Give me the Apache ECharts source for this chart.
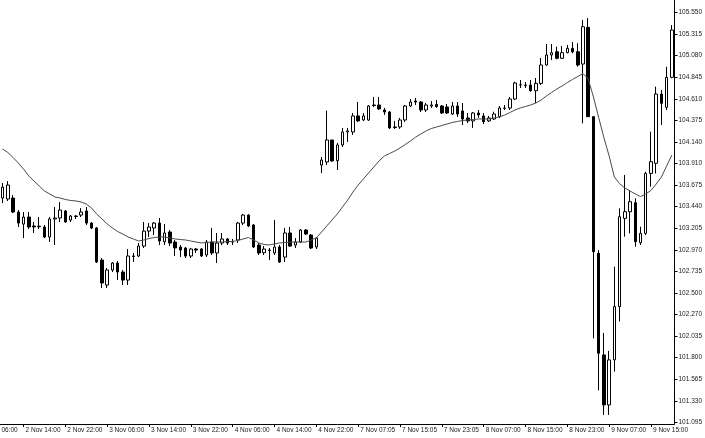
<!DOCTYPE html>
<html>
<head>
<meta charset="utf-8">
<script src="https://cdn.jsdelivr.net/npm/echarts@6.0.0/dist/echarts.min.js"></script>
<style>
html,body{margin:0;padding:0;background:#fff;}
#chart{width:705px;height:438px;}
</style>
</head>
<body>
<div id="chart"></div>
<script>
// Hourly bars (2 Nov 10:00 .. 9 Nov 19:00)
const daySegments = [
  ["2 Nov", 10, 23, "00"],
  ["3 Nov", 0, 23, "00"],
  ["4 Nov", 0, 22, "00"],
  ["7 Nov", 0, 23, "05"],
  ["8 Nov", 0, 23, "00"],
  ["9 Nov", 0, 19, "00"]
];
const categories = [];
daySegments.forEach(function (s) {
  for (let h = s[1]; h <= s[2]; h++) {
    categories.push(s[0] + " " + (h < 10 ? "0" + h : "" + h) + ":" + s[3]);
  }
});

const openValues = [
103.534,103.523,103.534,103.382,103.251,103.327,103.230,103.222,103.219,103.110,
103.306,103.317,103.393,103.295,103.333,103.349,103.393,103.262,103.208,102.860,
102.589,102.752,102.828,102.730,102.643,102.904,102.904,103.012,103.175,103.208,
103.262,103.059,103.165,103.056,103.002,102.991,102.904,102.980,102.980,102.915,
103.056,102.937,103.045,103.089,103.056,103.078,103.262,103.349,103.241,103.023,
102.940,102.969,102.937,103.002,102.893,103.154,103.023,103.056,103.186,103.132,
103.002,103.892,103.925,104.164,103.939,104.110,104.251,104.251,104.425,104.381,
104.381,104.544,104.544,104.490,104.468,104.305,104.305,104.381,104.533,104.587,
104.576,104.490,104.533,104.549,104.533,104.522,104.446,104.533,104.479,104.403,
104.371,104.457,104.425,104.371,104.392,104.417,104.508,104.511,104.609,104.761,
104.761,104.761,104.699,104.779,104.978,105.087,105.122,105.051,105.112,105.159,
105.122,104.989,105.387,104.417,102.934,101.830,101.287,101.776,102.355,103.313,
103.385,103.483,103.048,103.150,103.801,103.911,104.663,104.519,104.845
];
const closeValues = [
103.653,103.675,103.382,103.262,103.327,103.219,103.219,103.228,103.110,103.306,
103.317,103.403,103.273,103.338,103.338,103.382,103.262,103.208,102.839,102.611,
102.752,102.828,102.730,102.643,102.904,102.899,103.012,103.175,103.219,103.262,
103.067,103.154,103.045,102.991,102.969,102.904,102.980,102.969,102.904,103.056,
102.937,103.045,103.089,103.045,103.061,103.262,103.349,103.230,103.002,102.937,
102.980,102.964,103.002,102.839,103.154,103.012,103.056,103.186,103.143,102.991,
103.099,103.946,104.164,103.936,104.110,104.251,104.262,104.425,104.371,104.425,
104.533,104.538,104.501,104.468,104.295,104.300,104.381,104.533,104.576,104.576,
104.490,104.544,104.544,104.527,104.457,104.457,104.533,104.446,104.392,104.371,
104.457,104.436,104.363,104.403,104.446,104.511,104.511,104.609,104.783,104.764,
104.755,104.699,104.779,104.978,105.087,105.112,105.051,105.112,105.159,105.122,
104.978,105.394,104.417,102.951,101.848,101.287,101.776,102.355,103.331,103.385,
103.494,103.059,103.150,103.801,103.928,104.663,104.562,104.845,105.358
];
const highValues = [
103.697,103.718,103.566,103.403,103.382,103.382,103.273,103.327,103.241,103.327,
103.436,103.490,103.403,103.349,103.349,103.425,103.436,103.273,103.219,102.882,
102.774,102.839,102.850,102.752,102.980,102.937,103.045,103.273,103.262,103.273,
103.317,103.251,103.186,103.078,103.023,103.002,102.991,102.991,102.991,103.078,
103.208,103.154,103.154,103.099,103.089,103.273,103.360,103.360,103.251,103.045,
103.012,102.991,103.295,103.023,103.208,103.219,103.099,103.197,103.197,103.143,
103.110,103.979,104.482,104.164,104.132,104.295,104.295,104.457,104.577,104.457,
104.544,104.631,104.631,104.512,104.479,104.370,104.403,104.544,104.609,104.620,
104.587,104.566,104.587,104.598,104.544,104.555,104.576,104.576,104.566,104.457,
104.468,104.490,104.457,104.425,104.471,104.533,104.544,104.631,104.797,104.815,
104.793,104.815,104.837,105.054,105.206,105.206,105.177,105.184,105.195,105.228,
105.214,105.467,105.488,104.424,102.968,102.069,101.874,102.789,103.422,103.784,
103.621,103.530,103.222,103.819,104.254,104.743,104.707,104.960,105.412
];
const lowValues = [
103.479,103.501,103.371,103.219,103.099,103.197,103.154,103.197,103.099,103.056,
103.023,103.273,103.268,103.273,103.306,103.327,103.241,103.197,102.828,102.556,
102.556,102.730,102.643,102.589,102.589,102.839,102.893,102.991,103.110,103.132,
103.023,103.023,103.012,102.904,102.893,102.882,102.882,102.937,102.893,102.893,
102.915,102.828,103.023,103.023,103.023,103.045,103.241,103.219,102.991,102.915,
102.915,102.860,102.915,102.828,102.839,103.002,102.991,103.045,103.132,102.980,
102.980,103.805,103.892,103.930,103.838,104.088,104.143,104.218,104.360,104.371,
104.371,104.522,104.490,104.436,104.284,104.284,104.284,104.360,104.522,104.544,
104.468,104.468,104.512,104.512,104.446,104.446,104.436,104.414,104.327,104.349,
104.295,104.403,104.338,104.360,104.381,104.403,104.490,104.490,104.598,104.728,
104.728,104.688,104.566,104.761,104.971,105.032,105.040,105.043,105.105,105.105,
104.960,104.345,104.413,102.011,101.446,101.178,101.178,101.649,102.193,103.114,
103.150,103.005,103.023,103.132,103.657,103.801,104.327,104.490,104.834
];
const maValues = [
104.066,104.028,103.974,103.914,103.849,103.773,103.719,103.664,103.610,103.578,
103.545,103.534,103.518,103.507,103.502,103.491,103.469,103.426,103.360,103.306,
103.252,103.208,103.170,103.143,103.111,103.089,103.067,103.078,103.094,103.105,
103.111,103.111,103.100,103.089,103.083,103.078,103.067,103.056,103.046,103.051,
103.056,103.056,103.056,103.062,103.062,103.073,103.089,103.105,103.078,103.046,
103.029,103.024,103.035,103.046,103.051,103.056,103.056,103.056,103.056,103.078,
103.100,103.165,103.230,103.295,103.360,103.436,103.512,103.599,103.675,103.740,
103.806,103.871,103.936,103.990,104.017,104.044,104.077,104.115,104.153,104.196,
104.229,104.262,104.289,104.305,104.321,104.338,104.354,104.365,104.376,104.381,
104.386,104.392,104.392,104.392,104.403,104.414,104.435,104.462,104.490,104.511,
104.528,104.544,104.566,104.598,104.642,104.680,104.718,104.750,104.788,104.821,
104.853,104.886,104.826,104.631,104.408,104.189,103.990,103.762,103.689,103.643,
103.610,103.578,103.550,103.578,103.616,103.686,103.762,103.882,104.001
];
const priceTicks = [105.550,105.315,105.080,104.845,104.610,104.375,104.140,103.910,103.675,103.440,
  103.205,102.970,102.735,102.500,102.270,102.035,101.800,101.565,101.330,101.095];
const clippedLeftLabel = "2 Nov 06:00";

const candleData = openValues.map(function (o, i) {
  return [o, closeValues[i], lowValues[i], highValues[i]];
});

const chart = echarts.init(document.getElementById('chart'), null, {renderer: 'canvas'});
const FONT = 'Liberation Sans';
const labelEvery = function (i) { return i % 8 === 4; };
const W = 705, gridLeft = -1, gridRight = 28;
const band = (W - gridLeft - gridRight) / categories.length;

chart.setOption({
  animation: false,
  backgroundColor: '#ffffff',
  textStyle: {fontFamily: FONT},
  grid: {left: gridLeft, right: gridRight, top: 0, bottom: 14, containLabel: false},
  xAxis: {
    type: 'category',
    data: categories,
    boundaryGap: true,
    axisLine: {show: true, lineStyle: {color: '#000', width: 1}},
    axisTick: {show: true, interval: labelEvery, alignWithLabel: true, length: 3, lineStyle: {color: '#000'}},
    axisLabel: {show: true, interval: labelEvery, align: 'left', margin: 3, padding: [0, 0, 0, 2],
      fontSize: 6.5, color: '#222', fontFamily: FONT},
    splitLine: {show: false}
  },
  yAxis: {
    type: 'value',
    position: 'right',
    min: 101.080,
    max: 105.684,
    scale: true,
    axisLine: {show: true, lineStyle: {color: '#000', width: 1}},
    axisTick: {show: true, customValues: priceTicks, length: 3, lineStyle: {color: '#000'}},
    axisLabel: {show: true, customValues: priceTicks, margin: 4, fontSize: 6.5, color: '#222', fontFamily: FONT,
      formatter: function (v) { return v.toFixed(3); }},
    splitLine: {show: false}
  },
  graphic: [{
    type: 'text',
    left: gridLeft + band * (0.5 - 4) + 2,
    top: 427,
    silent: true,
    style: {text: clippedLeftLabel, fontSize: 6.5, fill: '#222', fontFamily: FONT}
  }],
  series: [
    {
      type: 'candlestick',
      data: candleData,
      barWidth: 3,
      itemStyle: {color: '#ffffff', color0: '#000000', borderColor: '#000000', borderColor0: '#000000', borderWidth: 1},
      z: 2
    },
    {
      type: 'line',
      data: maValues,
      showSymbol: false,
      symbol: 'none',
      lineStyle: {color: '#4a4a4a', width: 1},
      z: 3
    }
  ]
});
</script>
</body>
</html>
